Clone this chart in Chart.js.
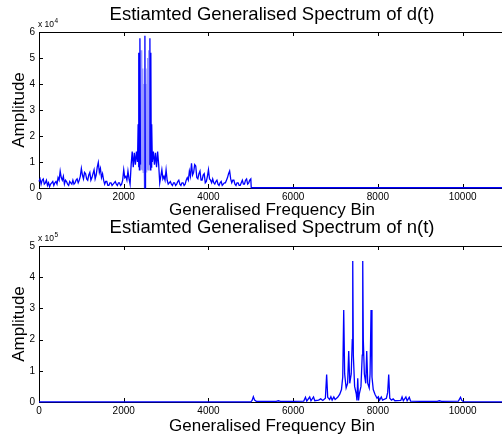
<!DOCTYPE html>
<html>
<head>
<meta charset="utf-8">
<script src="https://cdn.jsdelivr.net/npm/chart.js@4"></script>
<style>
  body { margin: 0; background: #fff; }
  #wrap { position: relative; width: 502px; height: 437px; overflow: hidden; background: #fff; }
  canvas { position: absolute; left: 0; }
  #graficoD { top: 0; }
  #graficoN { top: 217px; }
</style>
</head>
<body>
<div id="wrap">
  <canvas id="graficoD" width="505" height="221"></canvas>
  <canvas id="graficoN" width="505" height="220"></canvas>
</div>
<script>
// d(t): amplitude in units of 10^4
const binsD = [0,25,50,75,100,125,150,175,200,225,250,275,300,325,350,375,400,425,450,475,
  500,525,550,575,600,625,650,675,700,725,750,775,800,825,850,875,900,925,950,975,
  1000,1025,1050,1075,1100,1125,1150,1175,1200,1225,1250,1275,1300,1325,1350,1375,1400,1425,1450,1475,
  1500,1525,1550,1575,1600,1625,1650,1675,1700,1725,1750,1775,1800,1825,1850,1875,1900,1925,1950,1975,
  2000,2025,2050,2075,2100,2125,2150,2175,2200,2225,2250,2275,2300,2325,2340,2350,2360,2370,2382,2395,
  2410,2420,2430,2440,2450,2460,2470,2480,2490,2500,2510,2520,2530,2540,2550,2560,2570,2580,2590,2605,
  2618,2630,2640,2650,2660,2675,2700,2725,2750,2775,2800,2825,2850,2875,2900,2925,2950,2975,
  3000,3025,3050,3075,3100,3125,3150,3175,3200,3225,3250,3275,3300,3325,3350,3375,3400,3425,3450,3475,
  3500,3525,3550,3575,3600,3625,3650,3675,3700,3725,3750,3775,3800,3825,3850,3875,3900,3925,3950,3975,
  4000,4025,4050,4075,4100,4125,4150,4175,4200,4225,4250,4275,4300,4325,4350,4375,4400,4425,4450,4475,
  4500,4525,4550,4575,4600,4625,4650,4675,4700,4725,4750,4775,4800,4825,4850,4875,4900,4925,4950,4975,
  5000,5010,11000];
const ampD = [0.25,0.35,0.15,0.3,0.35,0.15,0.2,0.3,0.1,0.2,0.05,0.15,0.2,0.25,0.1,0.2,0.25,0.15,0.4,0.3,
  0.65,0.4,0.3,0.45,0.15,0.3,0.25,0.15,0.1,0.25,0.2,0.15,0.3,0.15,0.2,0.3,0.35,0.2,0.3,0.45,
  0.75,0.5,0.35,0.6,0.55,0.35,0.3,0.5,0.6,0.3,0.4,0.55,0.7,0.35,0.5,0.8,0.98,0.6,0.75,0.4,
  0.55,0.3,0.15,0.25,0.25,0.1,0.1,0.2,0.2,0.1,0.15,0.2,0.25,0.15,0.1,0.2,0.2,0.1,0.15,0.3,
  0.7,0.4,0.45,0.3,0.65,0.35,0.15,0.9,1.4,0.8,1.35,0.9,1.4,1.0,2.45,0.8,5.2,0.7,5.76,0.9,
  5.3,0.7,5.0,0.7,4.6,0.6,4.0,0.7,0.0,5.86,0.0,0.7,4.0,0.6,4.6,0.7,5.0,0.7,5.3,0.9,
  5.76,0.7,5.2,0.8,2.45,1.0,1.4,0.9,1.35,0.8,1.4,0.9,0.2,0.45,0.7,0.35,0.45,0.3,
  0.7,0.3,0.15,0.2,0.25,0.15,0.1,0.2,0.2,0.1,0.15,0.25,0.3,0.15,0.1,0.2,0.2,0.1,0.15,0.3,
  0.4,0.3,0.65,0.45,0.95,0.5,0.6,0.9,0.85,0.4,0.35,0.55,0.65,0.3,0.3,0.5,0.55,0.2,0.25,0.45,
  0.7,0.35,0.3,0.2,0.35,0.2,0.15,0.25,0.3,0.15,0.1,0.2,0.25,0.1,0.15,0.2,0.2,0.3,0.4,0.55,
  0.65,0.35,0.2,0.3,0.3,0.15,0.1,0.2,0.2,0.1,0.1,0.2,0.3,0.15,0.15,0.3,0.35,0.15,0.2,0.3,
  0.35,0.01,0.01];

// n(t): amplitude in units of 10^5
const binsN = [0,5000,5030,5060,5090,5130,5600,5650,5700,6000,6250,6290,6320,6390,6420,6480,6510,6600,6650,6700,
  6760,6790,6815,6860,6890,6920,6960,6990,7050,7100,7140,7170,7193,7215,7250,7285,7311,7335,7370,7395,
  7406,7420,7450,7490,7505,7524,7543,7560,7600,7630,7642,7655,7680,7713,7736,7760,7795,7815,7838,7860,
  7890,7930,7980,8010,8040,8080,8110,8200,8230,8255,8280,8320,8360,8400,8540,8570,8600,8660,8690,8740,
  8770,9000,9400,9450,9500,9900,9950,9980,10020,11000];
const ampN = [0.005,0.005,0.05,0.17,0.06,0.02,0.02,0.04,0.02,0.02,0.03,0.15,0.03,0.16,0.04,0.16,0.04,0.06,0.1,0.05,
  0.12,0.88,0.15,0.08,0.17,0.06,0.16,0.08,0.15,0.25,0.4,0.8,2.95,0.9,0.45,0.6,1.63,0.6,0.9,2.0,
  4.52,1.5,0.5,0.25,0.05,0.76,0.05,0.25,0.5,1.5,4.52,2.0,0.9,0.6,1.63,0.6,0.45,0.9,2.95,0.8,
  0.4,0.25,0.12,0.17,0.06,0.16,0.06,0.12,0.3,0.88,0.12,0.06,0.1,0.04,0.05,0.16,0.04,0.16,0.04,0.15,
  0.03,0.02,0.02,0.04,0.02,0.03,0.15,0.05,0.01,0.005];

const xTicks = [0, 2000, 4000, 6000, 8000, 10000];
const xMax = 11000;

const fonte = "'Liberation Sans', Arial, Helvetica, sans-serif";

// bins where the spectrum oscillates faster than a pixel -> drawn lighter
const zonasDensas = [[2395, 2490], [2510, 2605]];

// axes box with inward ticks, like matlab
const eixosMatlab = {
  id: 'eixosMatlab',
  beforeDatasetsDraw(chart) {
    const {ctx, chartArea: a, scales: {x, y}} = chart;
    ctx.save();
    ctx.strokeStyle = '#000';
    ctx.lineWidth = 1;
    ctx.beginPath();
    ctx.moveTo(a.left + 0.5, a.top + 0.5);
    ctx.lineTo(a.left + 0.5, a.bottom + 0.5);
    ctx.moveTo(a.left, a.bottom + 0.5);
    ctx.lineTo(a.right, a.bottom + 0.5);
    ctx.moveTo(a.left, a.top + 0.5);
    ctx.lineTo(a.right, a.top + 0.5);
    x.ticks.forEach(t => {
      const px = Math.round(x.getPixelForValue(t.value)) + 0.5;
      ctx.moveTo(px, a.bottom);
      ctx.lineTo(px, a.bottom - 4);
      ctx.moveTo(px, a.top);
      ctx.lineTo(px, a.top + 4);
    });
    y.ticks.forEach(t => {
      const py = Math.round(y.getPixelForValue(t.value)) + 0.5;
      ctx.moveTo(a.left, py);
      ctx.lineTo(a.left + 4, py);
    });
    ctx.stroke();
    ctx.restore();
  },
  afterDraw(chart, args, opts) {
    const {ctx, chartArea: a} = chart;
    ctx.save();
    ctx.fillStyle = '#000';
    ctx.textBaseline = 'alphabetic';
    ctx.font = '8.5px ' + fonte;
    ctx.fillText('x 10', a.left - 1, a.top - 5);
    const w = ctx.measureText('x 10').width;
    ctx.font = '6.5px ' + fonte;
    ctx.fillText(opts.expoente, a.left - 0.5 + w, a.top - 9);
    ctx.restore();
  }
};

function corSegmento(ctx) {
  const x0 = ctx.p0.parsed.x, x1 = ctx.p1.parsed.x;
  const denso = zonasDensas.some(z => x0 >= z[0] && x1 <= z[1]);
  return denso ? 'rgba(0,0,255,0.4)' : undefined;
}

function montarGrafico(id, bins, amps, yMax, expoente, titulo, tituloPad, xAltura, xTituloPad) {
  return new Chart(document.getElementById(id), {
    type: 'line',
    data: {
      datasets: [{
        data: bins.map((b, i) => ({x: b, y: amps[i]})),
        borderColor: '#0000ff',
        borderWidth: 1.3,
        pointRadius: 0,
        tension: 0,
        fill: false,
        clip: false,
        segment: { borderColor: corSegmento }
      }]
    },
    options: {
      responsive: false,
      animation: false,
      devicePixelRatio: 1,
      layout: { padding: 0 },
      plugins: {
        legend: { display: false },
        tooltip: { enabled: false },
        title: {
          display: true,
          fullSize: false,
          text: titulo,
          color: '#000',
          font: { family: fonte, size: 18.5, weight: 'normal' },
          padding: tituloPad
        },
        eixosMatlab: { expoente: expoente }
      },
      scales: {
        x: {
          type: 'linear',
          min: 0,
          max: xMax,
          afterBuildTicks(scale) { scale.ticks = xTicks.map(v => ({value: v})); },
          afterFit(scale) { scale.height = xAltura; },
          grid: { display: false, drawTicks: false },
          border: { display: false },
          ticks: {
            autoSkip: false, maxRotation: 0, padding: 3.5, color: '#000',
            font: { family: fonte, size: 10 },
            callback: v => String(v)
          },
          title: {
            display: true, text: 'Generalised Frequency Bin', color: '#000',
            font: { family: fonte, size: 17 },
            padding: { top: 0, bottom: xTituloPad }
          }
        },
        y: {
          min: 0,
          max: yMax,
          afterFit(scale) { scale.width = 39; },
          grid: { display: false, drawTicks: false },
          border: { display: false },
          ticks: {
            stepSize: 1, padding: 4, color: '#000',
            font: { family: fonte, size: 10 },
            callback: v => String(v)
          },
          title: {
            display: true, text: 'Amplitude', color: '#000',
            font: { family: fonte, size: 17 },
            padding: { top: 8.8, bottom: 0 }
          }
        }
      }
    },
    plugins: [eixosMatlab]
  });
}

const chartD = montarGrafico('graficoD', binsD, ampD, 6, '4',
  'Estiamted Generalised Spectrum of d(t)', { top: 3.9, bottom: 5.9 }, 33, 0);

const chartN = montarGrafico('graficoN', binsN, ampN, 5, '5',
  'Estiamted Generalised Spectrum of n(t)', { top: 0.2, bottom: 6.6 }, 35, 0.1);
</script>
</body>
</html>
